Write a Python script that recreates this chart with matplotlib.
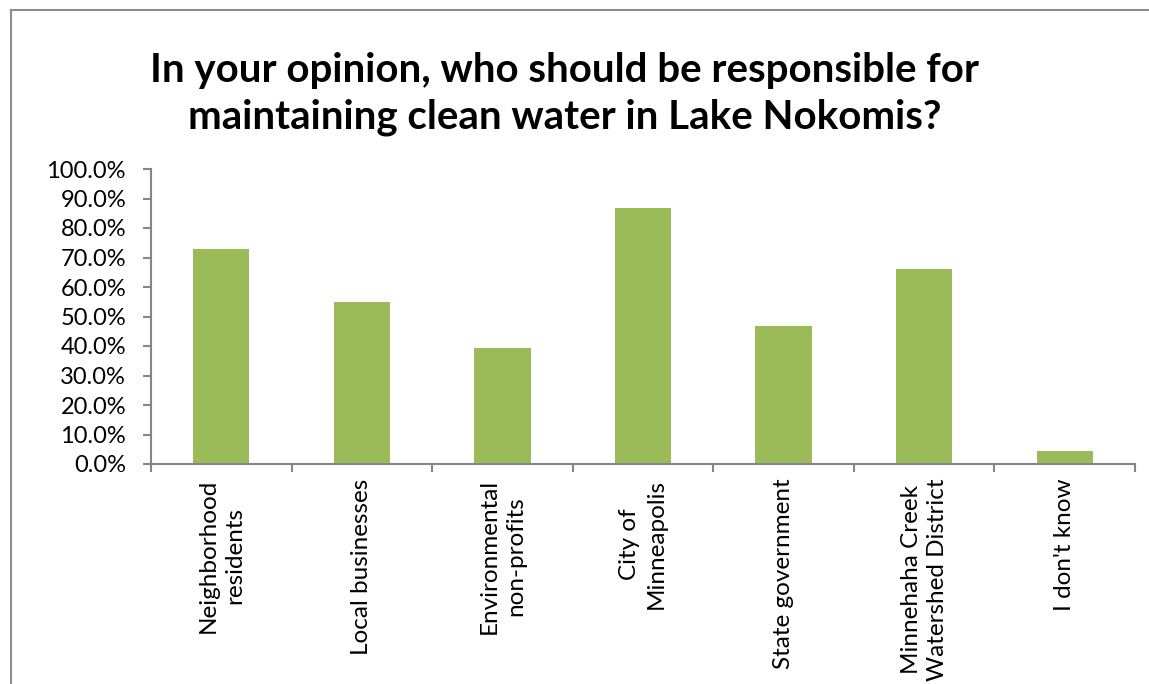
import matplotlib.pyplot as plt
from matplotlib.lines import Line2D
from matplotlib.ticker import FuncFormatter, MultipleLocator

plt.rcParams["font.family"] = ["Lato", "DejaVu Sans"]

categories = [
    "Neighborhood\nresidents",
    "Local businesses",
    "Environmental\nnon-profits",
    "City of\nMinneapolis",
    "State government",
    "Minnehaha Creek\nWatershed District",
    "I don't know",
]
shares = [72.9, 54.9, 39.4, 86.8, 46.8, 66.1, 4.3]

bar_color = "#9BBB59"
axis_color = "#868686"

W, H = 1149, 684
fig = plt.figure(figsize=(W / 100, H / 100), dpi=100)

# outer chart-area frame (only top and left edges fall inside the image)
fig.add_artist(Line2D([11 / W, 11 / W], [0, 1 - 10 / H], color="#8c8c8c", lw=1.5))
fig.add_artist(Line2D([11 / W, 1], [1 - 10 / H, 1 - 10 / H], color="#8c8c8c", lw=1.5))

left, right = 151 / W, 1135 / W
bottom, top = 1 - 464 / H, 1 - 169 / H
ax = fig.add_axes([left, bottom, right - left, top - bottom])

x = range(len(categories))
ax.bar(x, shares, width=0.4, color=bar_color, zorder=2)

ax.set_xlim(-0.5, len(categories) - 0.5)
ax.set_ylim(0, 100)
ax.yaxis.set_major_locator(MultipleLocator(10))
ax.yaxis.set_major_formatter(FuncFormatter(lambda v, _: f"{v:.1f}%"))

for side in ("top", "right"):
    ax.spines[side].set_visible(False)
for side in ("left", "bottom"):
    ax.spines[side].set_color(axis_color)
    ax.spines[side].set_linewidth(1.5)

# category boundaries carry the x ticks
ax.set_xticks([i - 0.5 for i in range(len(categories) + 1)])
ax.set_xticklabels([])
ax.tick_params(axis="x", length=6, width=1.5, color=axis_color, direction="out")
ax.tick_params(axis="y", length=6, width=1.5, color=axis_color, direction="out",
               labelsize=17, pad=12)

for i, name in enumerate(categories):
    ax.text(i, -5, name, rotation=90, ha="center", va="top", fontsize=17.5,
            multialignment="center", linespacing=1.3, transform=ax.transData)

fig.text(565 / W, 1 - 94 / H,
         "In your opinion, who should be responsible for\nmaintaining clean water in Lake Nokomis?",
         ha="center", va="center", fontsize=29, fontweight="bold", linespacing=1.3)

fig.savefig("out.png", dpi=100)
